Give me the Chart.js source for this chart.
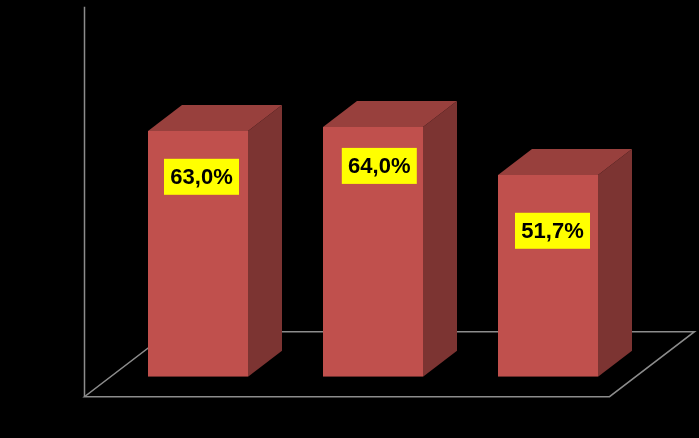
<!DOCTYPE html>
<html>
<head>
<meta charset="utf-8">
<script src="https://cdn.jsdelivr.net/npm/chart.js@4"></script>
<style>
  html, body { margin: 0; padding: 0; background: #000; }
  #wrap { width: 699px; height: 438px; }
</style>
</head>
<body>
<div id="wrap"><canvas id="c" width="699" height="438"></canvas></div>
<script>
// ---- data ----
const categories = ["1", "2", "3"];
const values = [63.0, 64.0, 51.7];
const yMin = 0;
const yMax = 95;
const axisTopValue = 100;

function fmt(v) { return v.toFixed(1).replace('.', ',') + '%'; }

const bar3d = {
  id: 'bar3d',
  beforeDraw(chart) {
    const ctx = chart.ctx;
    ctx.save();
    ctx.fillStyle = '#000';
    ctx.fillRect(0, 0, chart.width, chart.height);
    ctx.restore();
  },
  beforeDatasetsDraw(chart, args, o) {
    const ctx = chart.ctx, ca = chart.chartArea, ys = chart.scales.y;
    const fl = [ca.left + o.front.dx, ca.bottom + o.front.dy];
    const fr = [ca.right + o.front.dx, ca.bottom + o.front.dy];
    const br = [fr[0] + o.floor.dx, fr[1] + o.floor.dy];
    const bl = [fl[0] + o.floor.dx, fl[1] + o.floor.dy];
    ctx.save();
    ctx.strokeStyle = o.lineColor;
    ctx.lineWidth = o.lineWidth;
    ctx.beginPath();
    ctx.moveTo(fl[0], fl[1]);
    ctx.lineTo(fr[0], fr[1]);
    ctx.lineTo(br[0], br[1]);
    ctx.lineTo(bl[0], bl[1]);
    ctx.closePath();
    ctx.stroke();
    // vertical axis line on the front plane
    const topY = ys.getPixelForValue(axisTopValue) + o.front.dy;
    ctx.beginPath();
    ctx.moveTo(fl[0], fl[1]);
    ctx.lineTo(fl[0], topY);
    ctx.stroke();
    ctx.restore();
  },
  afterDatasetsDraw(chart, args, o) {
    const ctx = chart.ctx;
    const meta = chart.getDatasetMeta(0);
    const ds = chart.data.datasets[0];
    ctx.save();
    meta.data.forEach((bar, i) => {
      const p = bar.getProps(['x', 'y', 'base', 'width'], true);
      const l = p.x - p.width / 2, r = p.x + p.width / 2, t = p.y, b = p.base;
      const dx = o.depth.dx, dy = o.depth.dy;
      // side face
      ctx.fillStyle = o.sideColor;
      ctx.beginPath();
      ctx.moveTo(r, t); ctx.lineTo(r + dx, t + dy); ctx.lineTo(r + dx, b + dy); ctx.lineTo(r, b);
      ctx.closePath(); ctx.fill();
      // top face
      ctx.fillStyle = o.topColor;
      ctx.beginPath();
      ctx.moveTo(l, t); ctx.lineTo(l + dx, t + dy); ctx.lineTo(r + dx, t + dy); ctx.lineTo(r, t);
      ctx.closePath(); ctx.fill();
      // label
      const off = o.labelOffsets[i];
      const cx = p.x + off.dx, cy = t + off.dy;
      ctx.fillStyle = o.labelBg;
      ctx.fillRect(cx - o.labelW / 2, cy - o.labelH / 2, o.labelW, o.labelH);
      ctx.fillStyle = '#000';
      ctx.font = o.labelFont;
      ctx.textAlign = 'center';
      ctx.textBaseline = 'middle';
      ctx.fillText(fmt(ds.data[i]), cx, cy + 1);
    });
    ctx.restore();
  }
};

new Chart(document.getElementById('c'), {
  type: 'bar',
  data: {
    labels: categories,
    datasets: [{
      data: values,
      backgroundColor: '#C0504D',
      borderWidth: 0,
      categoryPercentage: 1,
      barPercentage: 100 / 175
    }]
  },
  options: {
    responsive: false,
    animation: false,
    events: [],
    layout: { padding: { left: 110.5, right: 63.5, top: 6.2, bottom: 61.3 } },
    scales: {
      x: { display: false },
      y: { display: false, min: yMin, max: yMax }
    },
    plugins: {
      legend: { display: false },
      tooltip: { enabled: false },
      bar3d: {
        depth: { dx: 34, dy: -26 },
        front: { dx: -26, dy: 20 },
        floor: { dx: 85, dy: -65 },
        lineColor: '#8c8c8c',
        lineWidth: 1.5,
        sideColor: '#7C3432',
        topColor: '#98403D',
        labelBg: '#FFFF00',
        labelW: 75,
        labelH: 36,
        labelFont: 'bold 22px "Liberation Sans", Arial, sans-serif',
        labelOffsets: [ { dx: 3.5, dy: 45.8 }, { dx: 6.3, dy: 38.8 }, { dx: 4.5, dy: 55.7 } ]
      }
    }
  },
  plugins: [bar3d]
});
</script>
</body>
</html>
